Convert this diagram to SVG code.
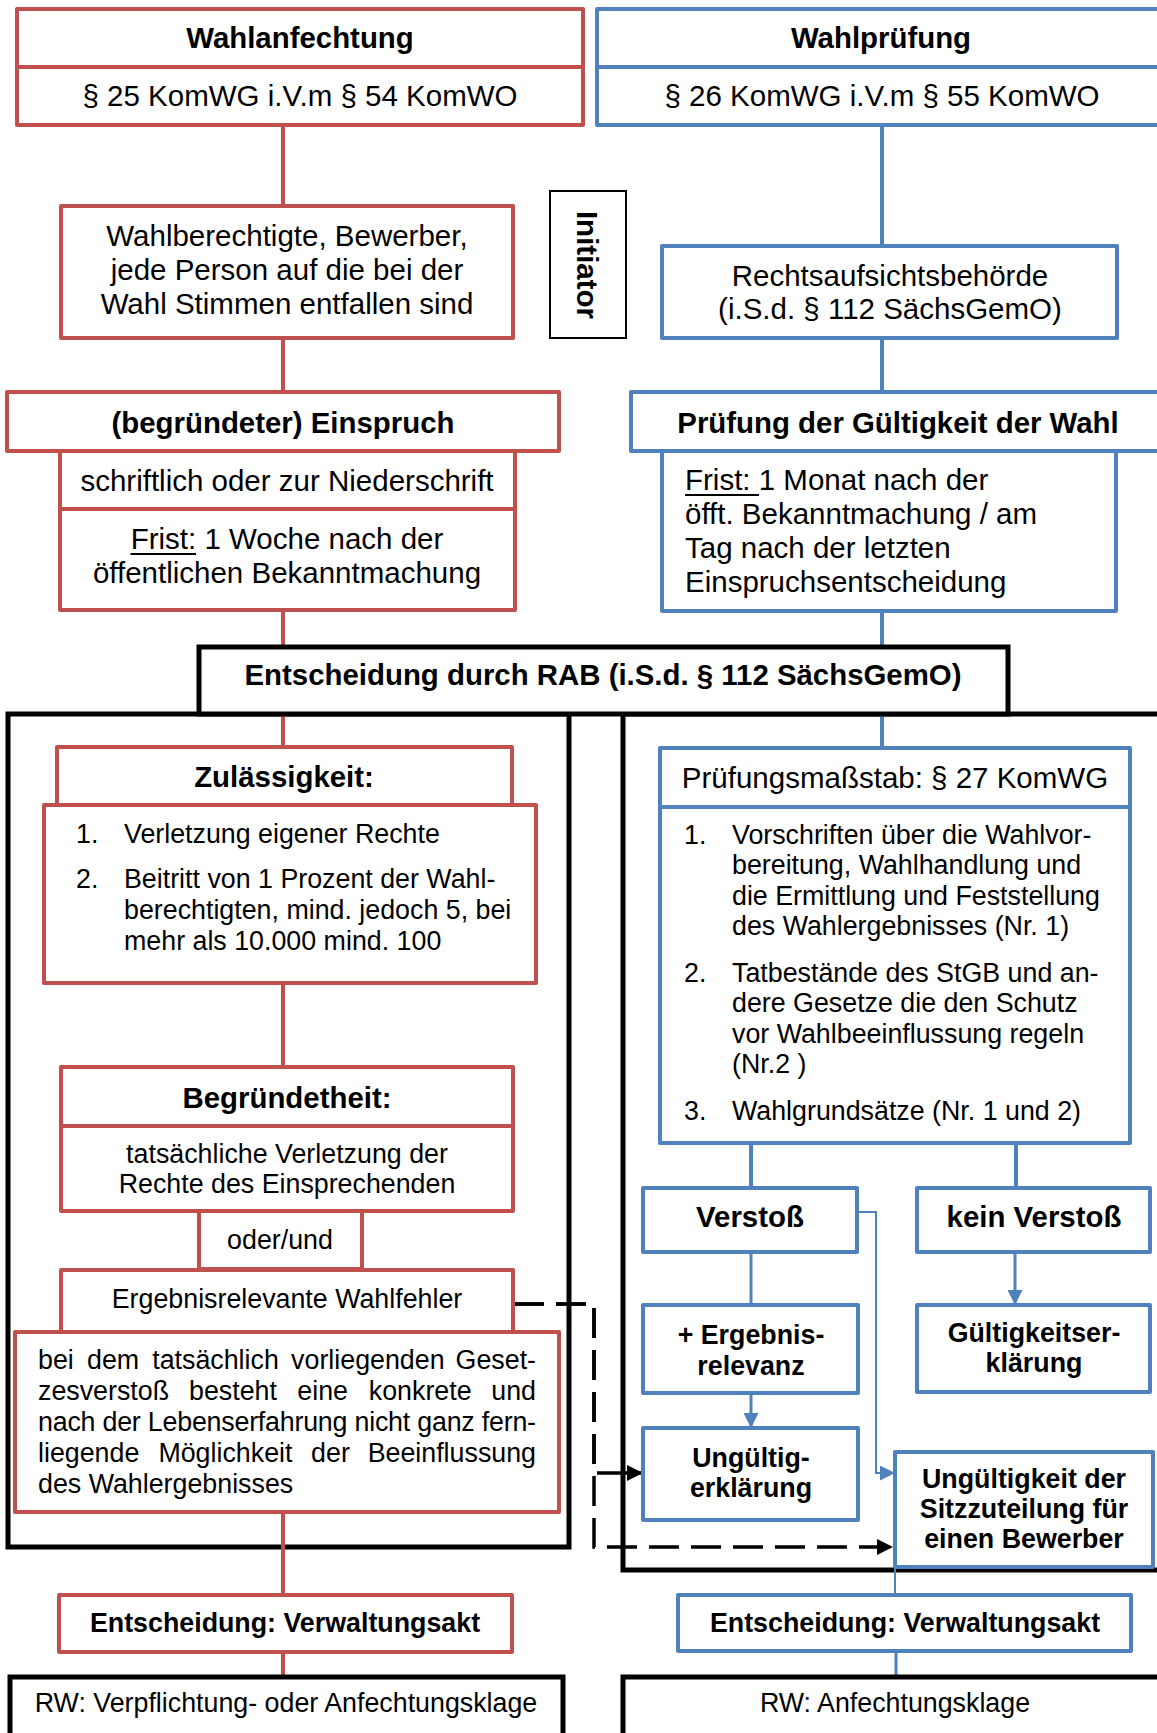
<svg xmlns="http://www.w3.org/2000/svg" width="1157" height="1733" viewBox="0 0 1157 1733">
<style>
text{font-family:"Liberation Sans",Arial,sans-serif;fill:#000;font-variant-ligatures:none}
.t29{font-size:29.5px}
.b29{font-size:29.4px;font-weight:bold}
.t26{font-size:26.8px}
.b26{font-size:26.8px;font-weight:bold}
.b27{font-size:29.5px;font-weight:bold}
.m{text-anchor:middle}
.e{text-anchor:end}
.r{fill:#fff;stroke:#C0504D;stroke-width:4;stroke-linejoin:round}
.b{fill:#fff;stroke:#4F81BD;stroke-width:4;stroke-linejoin:round}
.k{fill:#fff;stroke:#000;stroke-width:5}
.kf{fill:none;stroke:#000;stroke-width:5}
.cr{stroke:#C0504D;stroke-width:4;fill:none}
.cb{stroke:#4F81BD;stroke-width:4;fill:none}
.cb3{stroke:#4F81BD;stroke-width:3;fill:none}
.cbt{stroke:#4F81BD;stroke-width:2;fill:none}
.dash{stroke:#000;stroke-width:3.5;stroke-dasharray:30 12;fill:none}
.ul{stroke:#000;stroke-width:2}
</style>
<defs>
<marker id="ab" markerWidth="15" markerHeight="15" refX="15" refY="7.5" orient="auto" markerUnits="userSpaceOnUse"><path d="M0,0 L15,7.5 L0,15 z" fill="#4F81BD"/></marker>
<marker id="ak" markerWidth="16" markerHeight="16" refX="16" refY="8" orient="auto" markerUnits="userSpaceOnUse"><path d="M0,0 L16,8 L0,16 z" fill="#000"/></marker>
</defs>
<rect width="1157" height="1733" fill="#fff"/>

<g id="frames">
<rect class="kf" x="8" y="714" width="561" height="833"/>
<rect class="kf" x="623" y="714" width="560" height="856"/>
</g>

<g id="connectors">
<line class="cr" x1="283" y1="125" x2="283" y2="206"/>
<line class="cr" x1="283" y1="338" x2="283" y2="392"/>
<line class="cr" x1="283" y1="610" x2="283" y2="647"/>
<line class="cr" x1="283" y1="714" x2="283" y2="747"/>
<line class="cr" x1="283" y1="983" x2="283" y2="1067"/>
<line class="cr" x1="283" y1="1512" x2="283" y2="1595"/>
<line class="cr" x1="283" y1="1652" x2="283" y2="1677"/>
<line class="cb" x1="882" y1="125" x2="882" y2="246"/>
<line class="cb" x1="882" y1="338" x2="882" y2="392"/>
<line class="cb" x1="882" y1="611" x2="882" y2="647"/>
<line class="cb" x1="882" y1="714" x2="882" y2="748"/>
<line class="cb" x1="751" y1="1143" x2="751" y2="1188"/>
<line class="cb" x1="1016" y1="1143" x2="1016" y2="1188"/>
<line class="cb3" x1="751" y1="1252" x2="751" y2="1305"/>
<line class="cb3" x1="751" y1="1393" x2="751" y2="1428" marker-end="url(#ab)"/>
<line class="cb3" x1="1015" y1="1252" x2="1015" y2="1305" marker-end="url(#ab)"/>
<path class="cbt" d="M857,1212 H876 V1473 H895" marker-end="url(#ab)"/>
<line class="cbt" x1="895" y1="1567" x2="895" y2="1595"/>
<line class="cb3" x1="896" y1="1651" x2="896" y2="1677"/>
<path class="dash" d="M514,1304 H594 V1473 H643" marker-end="url(#ak)"/>
<path class="dash" d="M514,1304 H594 V1547 H893" marker-end="url(#ak)"/>
</g>

<g id="wahlanfechtung">
<rect class="r" x="17" y="9" width="566" height="116"/>
<line class="cr" x1="17" y1="67" x2="583" y2="67"/>
<text class="b29 m" x="300" y="48">Wahlanfechtung</text>
<text class="t29 m" x="300" y="106">§ 25 KomWG i.V.m § 54 KomWO</text>
</g>

<g id="wahlpruefung">
<rect class="b" x="597" y="9" width="580" height="116"/>
<line class="cb" x1="597" y1="67" x2="1177" y2="67"/>
<text class="b29 m" x="881" y="48">Wahlprüfung</text>
<text class="t29 m" x="882" y="106">§ 26 KomWG i.V.m § 55 KomWO</text>
</g>

<g id="wahlberechtigte">
<rect class="r" x="61" y="206" width="452" height="132"/>
<text class="t29 m" x="287" y="246">Wahlberechtigte, Bewerber,</text>
<text class="t29 m" x="287" y="280">jede Person auf die bei der</text>
<text class="t29 m" x="287" y="314">Wahl Stimmen entfallen sind</text>
</g>

<g id="initiator">
<rect x="550" y="191" width="76" height="147" fill="#fff" stroke="#000" stroke-width="2"/>
<text class="b27 m" transform="translate(587,265) rotate(90)" x="0" y="10.5">Initiator</text>
</g>

<g id="rechtsaufsicht">
<rect class="b" x="662" y="246" width="455" height="92"/>
<text class="t29 m" x="890" y="286">Rechtsaufsichtsbehörde</text>
<text class="t29 m" x="890" y="319">(i.S.d. § 112 SächsGemO)</text>
</g>

<g id="einspruch">
<rect class="r" x="60" y="451" width="455" height="159"/>
<line class="cr" x1="60" y1="509" x2="515" y2="509"/>
<rect class="r" x="7" y="392" width="552" height="59"/>
<text class="b29 m" x="283" y="433">(begründeter) Einspruch</text>
<text class="t29 m" x="287" y="491">schriftlich oder zur Niederschrift</text>
<text class="t29 m" x="287" y="549">Frist: 1 Woche nach der</text>
<line class="ul" x1="130.5" y1="554" x2="196" y2="554"/>
<text class="t29 m" x="287" y="583">öffentlichen Bekanntmachung</text>
</g>

<g id="pruefung-gueltigkeit">
<rect class="b" x="662" y="451" width="454" height="160"/>
<rect class="b" x="631" y="392" width="546" height="59"/>
<text class="b29 m" x="898" y="433">Prüfung der Gültigkeit der Wahl</text>
<text class="t29" x="685" y="490">Frist: 1 Monat nach der</text>
<line class="ul" x1="685" y1="495" x2="759" y2="495"/>
<text class="t29" x="685" y="524">öfft. Bekanntmachung / am</text>
<text class="t29" x="685" y="558">Tag nach der letzten</text>
<text class="t29" x="685" y="592">Einspruchsentscheidung</text>
</g>

<g id="entscheidung-rab">
<rect class="k" x="199" y="647" width="809" height="67"/>
<text class="b29 m" x="603" y="685">Entscheidung durch RAB (i.S.d. § 112 SächsGemO)</text>
</g>

<g id="zulaessigkeit">
<rect class="r" x="57" y="747" width="455" height="58"/>
<rect class="r" x="44" y="805" width="492" height="178"/>
<text class="b29 m" x="284" y="787">Zulässigkeit:</text>
<text class="t26" x="76" y="843">1.</text>
<text class="t26" x="124" y="843">Verletzung eigener Rechte</text>
<text class="t26" x="76" y="888">2.</text>
<text class="t26" x="124" y="888">Beitritt von 1 Prozent der Wahl-</text>
<text class="t26" x="124" y="919">berechtigten, mind. jedoch 5, bei</text>
<text class="t26" x="124" y="950">mehr als 10.000 mind. 100</text>
</g>

<g id="begruendetheit">
<rect class="r" x="61" y="1067" width="452" height="144"/>
<line class="cr" x1="61" y1="1126" x2="513" y2="1126"/>
<text class="b29 m" x="287" y="1108">Begründetheit:</text>
<text class="t26 m" x="287" y="1163">tatsächliche Verletzung der</text>
<text class="t26 m" x="287" y="1193">Rechte des Einsprechenden</text>
</g>

<g id="oder-und">
<rect class="r" x="199" y="1211" width="163" height="58"/>
<text class="t26 m" x="280" y="1249">oder/und</text>
</g>

<g id="ergebnisrelevante-wahlfehler">
<rect class="r" x="61" y="1270" width="452" height="62"/>
<text class="t26 m" x="287" y="1308">Ergebnisrelevante Wahlfehler</text>
</g>

<g id="gesetzesverstoss">
<rect class="r" x="15" y="1332" width="544" height="180"/>
<text class="t26" y="1369"><tspan x="38">bei</tspan><tspan x="87">dem</tspan><tspan x="152.2">tatsächlich</tspan><tspan x="291.1">vorliegenden</tspan></text>
<text class="t26 e" x="536" y="1369">Geset-</text>
<text class="t26" y="1400"><tspan x="38">zesverstoß</tspan><tspan x="189">besteht</tspan><tspan x="297.3">eine</tspan><tspan x="368.8">konkrete</tspan></text>
<text class="t26 e" x="536" y="1400">und</text>
<text class="t26" x="38" y="1431" textLength="498" lengthAdjust="spacing">nach der Lebenserfahrung nicht ganz fern-</text>
<text class="t26" y="1462"><tspan x="38">liegende</tspan><tspan x="158.4">Möglichkeit</tspan><tspan x="311.1">der</tspan></text>
<text class="t26 e" x="536" y="1462">Beeinflussung</text>
<text class="t26" x="38" y="1493">des Wahlergebnisses</text>
</g>

<g id="pruefungsmassstab">
<rect class="b" x="660" y="748" width="470" height="59"/>
<rect class="b" x="660" y="807" width="470" height="336"/>
<text class="t29 m" x="895" y="788">Prüfungsmaßstab: § 27 KomWG</text>
<text class="t26" x="684" y="844">1.</text>
<text class="t26" x="732" y="844">Vorschriften über die Wahlvor-</text>
<text class="t26" x="732" y="874">bereitung, Wahlhandlung und</text>
<text class="t26" x="732" y="905">die Ermittlung und Feststellung</text>
<text class="t26" x="732" y="935">des Wahlergebnisses (Nr. 1)</text>
<text class="t26" x="684" y="982">2.</text>
<text class="t26" x="732" y="982">Tatbestände des StGB und an-</text>
<text class="t26" x="732" y="1012">dere Gesetze die den Schutz</text>
<text class="t26" x="732" y="1043">vor Wahlbeeinflussung regeln</text>
<text class="t26" x="732" y="1073">(Nr.2 )</text>
<text class="t26" x="684" y="1120">3.</text>
<text class="t26" x="732" y="1120">Wahlgrundsätze (Nr. 1 und 2)</text>
</g>

<g id="verstoss">
<rect class="b" x="643" y="1188" width="214" height="64"/>
<text class="b29 m" x="750" y="1227">Verstoß</text>
</g>

<g id="kein-verstoss">
<rect class="b" x="917" y="1188" width="233" height="64"/>
<text class="b29 m" x="1034" y="1227">kein Verstoß</text>
</g>

<g id="ergebnisrelevanz">
<rect class="b" x="643" y="1305" width="215" height="88"/>
<text class="b26 m" x="751" y="1344">+ Ergebnis-</text>
<text class="b26 m" x="751" y="1375">relevanz</text>
</g>

<g id="gueltigkeitserklaerung">
<rect class="b" x="917" y="1305" width="233" height="87"/>
<text class="b26 m" x="1034" y="1342">Gültigkeitser-</text>
<text class="b26 m" x="1034" y="1372">klärung</text>
</g>

<g id="ungueltigerklaerung">
<rect class="b" x="643" y="1428" width="215" height="92"/>
<text class="b26 m" x="751" y="1467">Ungültig-</text>
<text class="b26 m" x="751" y="1497">erklärung</text>
</g>

<g id="sitzzuteilung">
<rect class="b" x="895" y="1452" width="258" height="115"/>
<text class="b26 m" x="1024" y="1488">Ungültigkeit der</text>
<text class="b26 m" x="1024" y="1518">Sitzzuteilung für</text>
<text class="b26 m" x="1024" y="1548">einen Bewerber</text>
</g>

<g id="va-links">
<rect class="r" x="59" y="1595" width="453" height="57"/>
<text class="b26 m" x="285" y="1632">Entscheidung: Verwaltungsakt</text>
</g>

<g id="va-rechts">
<rect class="b" x="678" y="1595" width="453" height="56"/>
<text class="b26 m" x="905" y="1632">Entscheidung: Verwaltungsakt</text>
</g>

<g id="rw-links">
<rect class="k" x="10" y="1677" width="553" height="80"/>
<text class="t26 m" x="286" y="1712">RW: Verpflichtung- oder Anfechtungsklage</text>
</g>

<g id="rw-rechts">
<rect class="k" x="623" y="1677" width="560" height="80"/>
<text class="t26 m" x="895" y="1712">RW: Anfechtungsklage</text>
</g>
</svg>
